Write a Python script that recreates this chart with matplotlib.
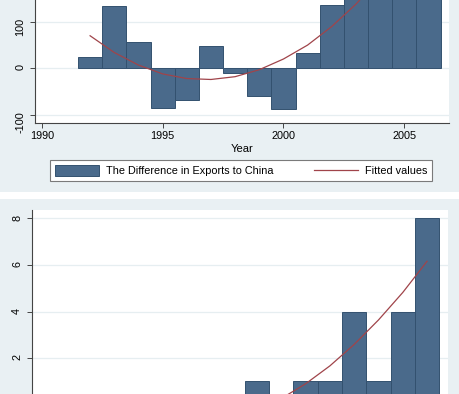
import matplotlib
matplotlib.use("Agg")
import matplotlib.pyplot as plt
from matplotlib.patches import Rectangle

plt.rcParams['font.family'] = ['Liberation Sans', 'DejaVu Sans']
plt.rcParams['axes.unicode_minus'] = False  # Stata prints a plain hyphen

# --- data ---
years = [1992, 1993, 1994, 1995, 1996, 1997, 1998, 1999,
         2000, 2001, 2002, 2003, 2004, 2005, 2006]
# top panel: difference in exports to China (2003-2006 run past the crop, estimated)
diff_exports = [24, 133, 57, -86, -68, 49, -11, -60, -88, 34, 136, 220, 260, 300, 330]
diff_fitted = [70, 34, 7, -12, -22, -24, -18, -3, 20, 50, 90, 138, 195, 260, 333]
# bottom panel: counts per year and their fitted curve
counts = [0, 0, 0, 0, 0, 0, 0, 1, 0, 1, 1, 4, 1, 4, 8]
counts_fitted = [0.18, -0.29, -0.63, -0.83, -0.89, -0.81, -0.59, -0.23,
                 0.27, 0.90, 1.67, 2.59, 3.64, 4.82, 6.16]

top_yticks = [-100, 0, 100]
bottom_yticks = [2, 4, 6, 8]  # the 0 tick sits below the crop
xticks = [1990, 1995, 2000, 2005]

# colours (Stata s2color look)
bg = '#e9f0f3'
bar_face = '#4a6a8b'
bar_edge = '#33516f'
fit_col = '#a0444a'
grid_col = '#e6eef1'
axis_col = '#444444'

W, H = 460, 394
fig = plt.figure(figsize=(W / 100, H / 100), dpi=100)
fig.patch.set_facecolor('white')

# graph region backgrounds
fig.patches.append(Rectangle((0, 1 - 192.3 / H), 1, 192.3 / H, transform=fig.transFigure,
                             facecolor=bg, edgecolor='none', zorder=-10))
fig.patches.append(Rectangle((0, 0), 1, (H - 199) / H, transform=fig.transFigure,
                             facecolor=bg, edgecolor='none', zorder=-10))


def style_axes(ax):
    ax.set_facecolor('white')
    for s in ['top', 'right']:
        ax.spines[s].set_visible(False)
    for s in ['left', 'bottom']:
        ax.spines[s].set_color(axis_col)
        ax.spines[s].set_linewidth(0.8)
    ax.yaxis.grid(True, color=grid_col, linewidth=0.9)
    ax.set_axisbelow(True)
    ax.tick_params(direction='out', length=3.4, width=0.7, color=axis_col,
                   labelsize=7.8, labelcolor='black')
    ax.tick_params(axis='y', labelrotation=90, pad=3.5)
    ax.tick_params(axis='x', pad=2.2)
    ax.set_xlim(1989.72, 2006.85)
    ax.set_xticks(xticks)


# top panel
ax1 = fig.add_axes([35 / W, 1 - 123 / H, (449 - 35) / W, 123 / H])
style_axes(ax1)
bars1 = ax1.bar(years, diff_exports, width=1.0, color=bar_face, edgecolor=bar_edge, linewidth=0.7)
line1, = ax1.plot(years, diff_fitted, color=fit_col, linewidth=0.9)
ax1.set_ylim(-117.6, 146.9)
ax1.set_yticks(top_yticks)
ax1.set_xlabel('Year', fontsize=8, labelpad=2.5)

leg = fig.legend([bars1, line1], ['The Difference in Exports to China', 'Fitted values'],
                 loc='center', bbox_to_anchor=(241 / W, 1 - 170.8 / H), ncol=2,
                 fontsize=7.8, frameon=True, fancybox=False, framealpha=1,
                 edgecolor='#7a7a7a', handlelength=4.1, handleheight=1.15,
                 handletextpad=0.65, columnspacing=3.7, borderpad=0.45)
leg.get_frame().set_linewidth(0.8)

# bottom panel (cut off at the bottom of the picture, so no x labels show)
ax2 = fig.add_axes([31.7 / W, (H - 416.4) / H, (447.7 - 31.7) / W, 206.4 / H])
style_axes(ax2)
ax2.tick_params(axis='x', labelbottom=False)
ax2.bar(years, counts, width=1.0, color=bar_face, edgecolor=bar_edge, linewidth=0.7)
ax2.plot(years, counts_fitted, color=fit_col, linewidth=0.9)
ax2.set_ylim(-0.5, 8.36)
ax2.set_yticks(bottom_yticks)

fig.savefig('out.png', dpi=100)
